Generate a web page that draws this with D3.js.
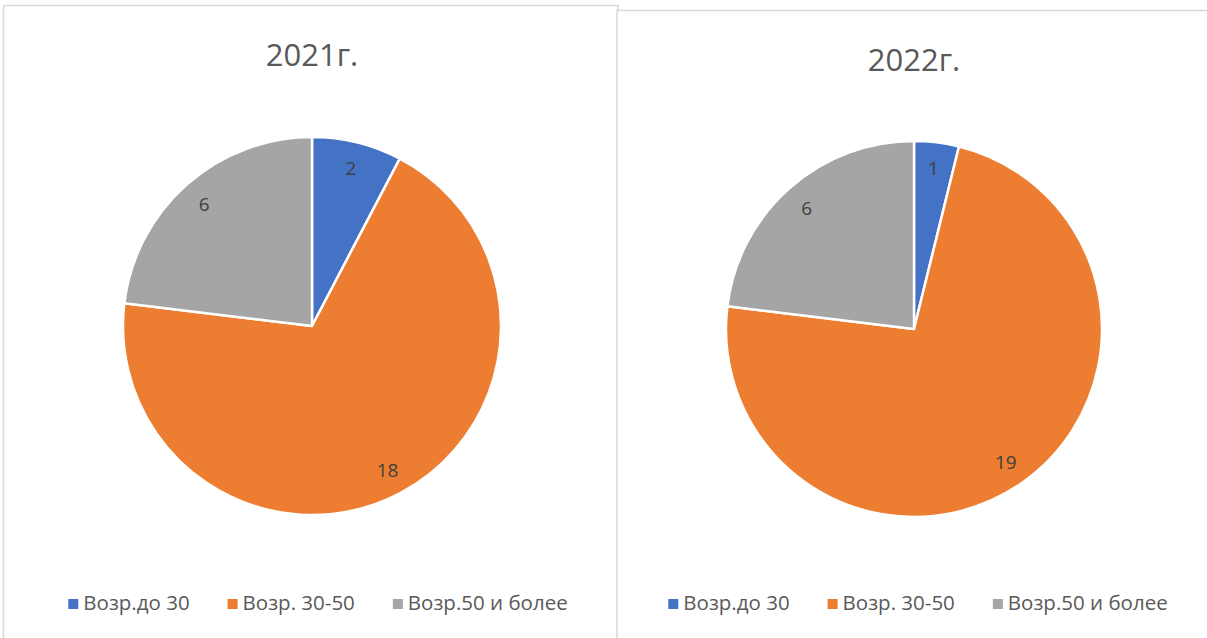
<!DOCTYPE html>
<html>
<head>
<meta charset="utf-8">
<script src="https://cdn.jsdelivr.net/npm/d3@7"></script>
<style>
  body { margin: 0; background: #fff; }
  text { font-family: "Open Sans", "Liberation Sans", sans-serif; }
</style>
</head>
<body>
<svg id="chart" width="1207" height="638"></svg>
<script>
// data
var categories = ['Возр.до 30', 'Возр. 30-50', 'Возр.50 и более'];
var years = ['2021г.', '2022г.'];
var values2021 = [2, 18, 6];
var values2022 = [1, 19, 6];
var colors = ['#4472C4', '#ED7D31', '#A5A5A5'];

var svg = d3.select('#chart');

// chart boxes (two excel-like panels)
var panels = [
  { title: years[0], values: values2021, x0: 3.5, y0: 5.5, x1: 618, cx: 312, cy: 326, r: 189, titleY: 66, legendY: 603, legendX: 318 },
  { title: years[1], values: values2022, x0: 617, y0: 10.5, x1: 1220, cx: 914, cy: 329, r: 188, titleY: 71, legendY: 603, legendX: 918 }
];

var color = d3.scaleOrdinal().domain(categories).range(colors);

panels.forEach(function (p) {
  var g = svg.append('g');

  g.append('rect')
    .attr('x', p.x0).attr('y', p.y0)
    .attr('width', p.x1 - p.x0).attr('height', 700)
    .attr('fill', '#fff')
    .attr('stroke', '#d9d9d9').attr('stroke-width', 1.5);

  g.append('text')
    .attr('x', p.cx).attr('y', p.titleY)
    .attr('text-anchor', 'middle')
    .attr('fill', '#595959')
    .style('font-size', '31px')
    .text(p.title);

  var pie = d3.pie().sort(null).value(function (d) { return d; });
  var arcs = pie(p.values);
  var arc = d3.arc().innerRadius(0).outerRadius(p.r);
  var labelArc = d3.arc().innerRadius(p.r * 0.86).outerRadius(p.r * 0.86);

  var pg = g.append('g').attr('transform', 'translate(' + p.cx + ',' + p.cy + ')');

  pg.selectAll('path').data(arcs).enter().append('path')
    .attr('d', arc)
    .attr('fill', function (d, i) { return color(categories[i]); })
    .attr('stroke', '#fff').attr('stroke-width', 2.5)
    .attr('stroke-linejoin', 'round');

  pg.selectAll('text').data(arcs).enter().append('text')
    .attr('transform', function (d) { return 'translate(' + labelArc.centroid(d) + ')'; })
    .attr('text-anchor', 'middle')
    .attr('dy', '0.35em')
    .attr('fill', '#404040')
    .style('font-size', '19px')
    .text(function (d) { return d.data; });

  // legend, centered under the pie
  var lg = g.append('g');
  var items = lg.selectAll('g').data(categories).enter().append('g');
  items.append('rect')
    .attr('width', 10).attr('height', 10)
    .attr('y', -11)
    .attr('fill', function (d) { return color(d); });
  items.append('text')
    .attr('x', 15).attr('y', 0)
    .attr('fill', '#595959')
    .style('font-size', '20.5px')
    .text(function (d) { return d; });

  var xpos = 0, gap = 38;
  items.each(function () {
    var w = this.querySelector('text').getComputedTextLength() + 15;
    d3.select(this).attr('transform', 'translate(' + xpos + ',0)');
    xpos += w + gap;
  });
  var total = xpos - gap;
  lg.attr('transform', 'translate(' + (p.legendX - total / 2) + ',' + (p.legendY + 7) + ')');
});
</script>
</body>
</html>
